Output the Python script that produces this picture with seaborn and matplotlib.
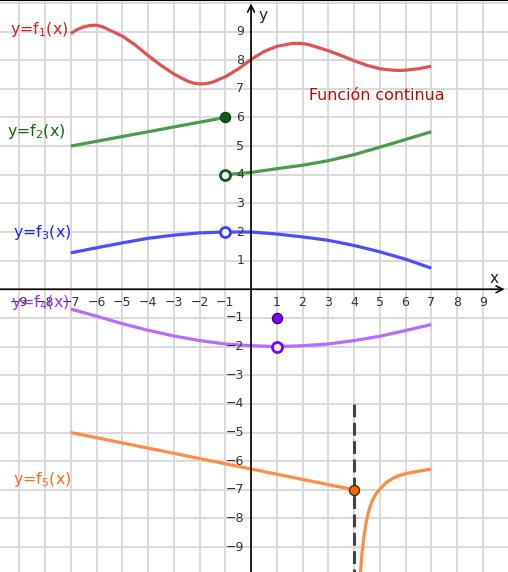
import matplotlib
matplotlib.use("Agg")
import matplotlib.pyplot as plt
import numpy as np
import pandas as pd
import seaborn as sns

# ---- data ----
f1_x = [-7, -6.75, -6.5, -6.25, -6, -5.75, -5.5, -5, -4.5, -4, -3.5, -3, -2.5, -2.25, -2,
        -1.75, -1.5, -1, -0.5, 0, 0.5, 1, 1.5, 1.75, 2, 2.25, 2.5, 3, 3.5, 4, 4.5, 5,
        5.5, 5.75, 6, 6.5, 7]
f1_y = [8.93, 9.07, 9.16, 9.21, 9.22, 9.16, 9.05, 8.84, 8.53, 8.16, 7.82, 7.52, 7.28, 7.2, 7.17,
        7.18, 7.23, 7.42, 7.69, 8.02, 8.30, 8.48, 8.57, 8.59, 8.58, 8.54, 8.47, 8.33, 8.16, 7.98,
        7.82, 7.70, 7.65, 7.64, 7.65, 7.70, 7.79]

f2_left_x = [-7, -4, -1]
f2_left_y = [5.0, 5.5, 6.0]
f2_right_x = [-1, -0.5, 0, 1, 2, 3, 4, 5, 6, 7]
f2_right_y = [4.0, 4.04, 4.08, 4.21, 4.33, 4.49, 4.70, 4.96, 5.23, 5.5]

f3_x = [-7, -6, -5, -4, -3, -2, -1, 0, 1, 2, 3, 4, 5, 6, 7]
f3_y = [1.27, 1.45, 1.62, 1.78, 1.89, 1.97, 2.0, 2.0, 1.93, 1.83, 1.71, 1.53, 1.31, 1.05, 0.74]

f4_x = [-7, -6, -5, -4, -3, -2, -1, 0, 1, 2, 3, 4, 5, 6, 7]
f4_y = [-0.69, -0.94, -1.2, -1.43, -1.63, -1.79, -1.91, -1.97, -2.0, -1.97, -1.91, -1.79,
        -1.64, -1.44, -1.23]

f5_left_x = [-7, 4]
f5_left_y = [-5.0, -7.0]
f5_right_x = [4.22, 4.25, 4.3, 4.35, 4.4, 4.45, 4.5, 4.6, 4.7, 4.8, 4.9, 5.0, 5.25, 5.5,
              5.75, 6.0, 6.5, 7.0]
f5_right_y = [-10.2, -9.85, -9.3, -8.9, -8.55, -8.25, -8.0, -7.65, -7.4, -7.22, -7.08, -6.98,
              -6.75, -6.6, -6.5, -6.44, -6.35, -6.28]

# special points
pts_x = [-1, -1, -1, 1, 1, 4]
pts_y = [6, 4, 2, -1, -2, -7]
pts_fill = ["#0b5d1e", "white", "white", "#7f00ff", "white", "#ff6600"]
pts_edge = ["#0a3d12", "#0b5d1e", "#3d3dff", "#3a0075", "#7f00ff", "#3a2a20"]

asym_x = 4
asym_top = -4

labels = ["y=f$_1$(x)", "y=f$_2$(x)", "y=f$_3$(x)", "y=f$_4$(x)", "y=f$_5$(x)"]
label_colors = ["#d81e1e", "#0a6b0a", "#1f1fff", "#9933ff", "#ff6a13"]
label_pos = [(-9.36, 8.93), (-9.46, 5.35), (-9.26, 1.81), (-9.31, -0.63), (-9.23, -6.8)]
note_text = "Función continua"

x_ticks = [t for t in range(-9, 10) if t != 0]
y_ticks = [t for t in range(-9, 10) if t != 0]

# ---- plot ----
sns.set_style("white")
plt.rcParams["font.family"] = ["DejaVu Sans"]
fig = plt.figure(figsize=(5.08, 5.72), dpi=100)
ax = fig.add_axes([0, 0, 1, 1])
ax.set_xlim(-9.75, 9.98)
ax.set_ylim(-9.87, 10.1)

ax.set_xticks(range(-9, 10))
ax.set_yticks(range(-9, 11))
ax.grid(True, color="#d9d9d9", lw=1.4)
ax.tick_params(length=0, labelbottom=False, labelleft=False)
for s in ["left", "right", "bottom"]:
    ax.spines[s].set_visible(False)
ax.spines["top"].set_color("black")
ax.spines["top"].set_linewidth(1.5)
ax.set_axisbelow(True)

# axes with arrows
ax.annotate("", xy=(9.85, 0), xytext=(-9.75, 0),
            arrowprops=dict(arrowstyle="->", lw=1.2, color="black",
                            shrinkA=0, shrinkB=0, mutation_scale=12))
ax.annotate("", xy=(0, 9.98), xytext=(0, -9.87),
            arrowprops=dict(arrowstyle="->", lw=1.2, color="black",
                            shrinkA=0, shrinkB=0, mutation_scale=12))
ax.text(9.45, 0.1, "x", fontsize=11, color="#222222", ha="center", va="bottom")
ax.text(0.28, 9.55, "y", fontsize=11, color="#222222", ha="left", va="center")

for t in x_ticks:
    ax.text(t, -0.22, f"{t}".replace("-", "\u2212"), fontsize=9, color="#333333",
            ha="center", va="top")
for t in y_ticks:
    ax.text(-0.27, t, f"{t}".replace("-", "\u2212"), fontsize=9, color="#333333",
            ha="right", va="center")

lw = 2.3
segs = [
    (f1_x, f1_y, "#df5353"),
    (f2_left_x, f2_left_y, "#4c9a4c"),
    (f2_right_x, f2_right_y, "#4c9a4c"),
    (f3_x, f3_y, "#4d4dff"),
    (f4_x, f4_y, "#b56cff"),
    (f5_left_x, f5_left_y, "#ff8c45"),
    (f5_right_x, f5_right_y, "#ff8c45"),
]
for xs, ys, c in segs:
    df = pd.DataFrame({"x": xs, "y": ys})
    sns.lineplot(data=df, x="x", y="y", ax=ax, color=c, lw=lw, sort=False,
                 estimator=None, solid_capstyle="butt", solid_joinstyle="round")

ax.plot([asym_x, asym_x], [asym_top, -9.87], color="#444444", lw=2.2,
        ls=(0, (4.2, 1.8)))

for xp, yp, fc, ec in zip(pts_x, pts_y, pts_fill, pts_edge):
    lwid = 1.0 if fc != "white" else 2.0
    ax.scatter([xp], [yp], s=52, facecolor=fc, edgecolor=ec, linewidth=lwid, zorder=5)

for lab, col, (lx, ly) in zip(labels, label_colors, label_pos):
    ax.text(lx, ly, lab, fontsize=11.4, color=col, ha="left", va="baseline")
ax.text(2.25, 6.61, note_text, fontsize=11.4, color="#cc0000", ha="left", va="baseline")

ax.set_xlabel("")
ax.set_ylabel("")
fig.savefig("out.png", dpi=100)
